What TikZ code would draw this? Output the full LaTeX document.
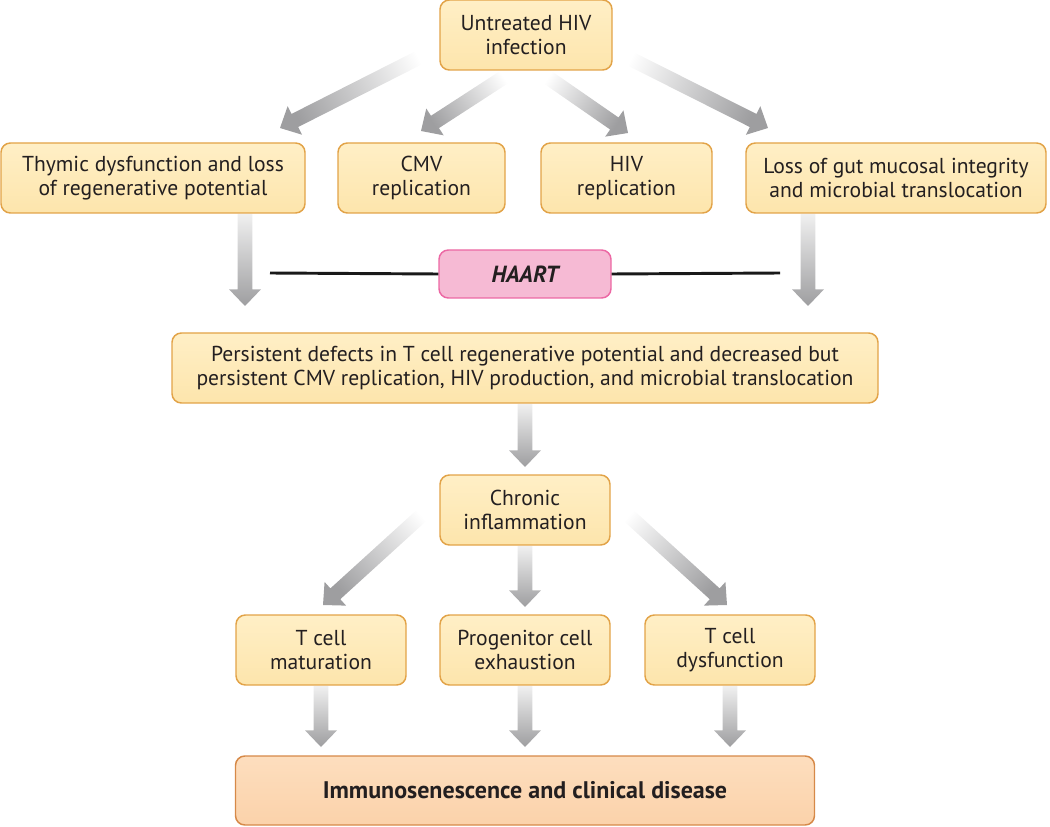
\documentclass[tikz,border=0pt]{standalone}
\usepackage{fontspec}
\setmainfont{PT Sans}
\usetikzlibrary{calc,backgrounds}
\definecolor{boxfill}{RGB}{253,229,172}
\definecolor{boxtop}{RGB}{255,239,198}
\definecolor{boxline}{RGB}{226,163,72}
\definecolor{endfill}{RGB}{251,210,170}
\definecolor{endtop}{RGB}{253,222,190}
\definecolor{endline}{RGB}{214,137,72}
\definecolor{hfill}{RGB}{246,186,212}
\definecolor{hline}{RGB}{236,104,164}
\definecolor{txt}{RGB}{35,31,32}
\definecolor{adark}{RGB}{158,158,160}
\definecolor{alight}{RGB}{240,240,240}

\newcommand{\fatarrow}[4]{% tail, tip, shading angle, light colour
  \coordinate (hb) at ($(#2)!12.5pt!(#1)$);
  \path[top color=#4, bottom color=adark, shading angle=#3]
    ($(#1)!5.5pt!90:(#2)$) -- ($(hb)!5.5pt!90:(#2)$) -- ($(hb)!12pt!90:(#2)$) -- (#2)
    -- ($(hb)!12pt!-90:(#2)$) -- ($(hb)!5.5pt!-90:(#2)$) -- ($(#1)!5.5pt!-90:(#2)$) -- cycle;
}

\tikzset{
  box/.style={draw=boxline, line width=1.1pt, rounded corners=7pt,
    top color=boxtop, bottom color=boxfill, align=center, inner sep=0pt,
    minimum height=52.5pt},
  endbox/.style={draw=endline, line width=1.1pt, rounded corners=7pt,
    top color=endtop, bottom color=endfill, align=center, inner sep=0pt,
    minimum height=51.75pt, font=\fontsize{18}{20}\selectfont\bfseries},
  haartbox/.style={draw=hline, line width=1.1pt, rounded corners=7pt,
    fill=hfill, align=center, inner sep=0pt, minimum width=129pt,
    minimum height=36pt, font=\fontsize{17.5}{19}\selectfont\bfseries\itshape},
  barline/.style={line width=2.2pt, draw=black!90}
}

\begin{document}
\begin{tikzpicture}[x=0.75pt, y=-0.75pt, font=\fontsize{16.2}{17.6}\selectfont, text=txt]
\useasboundingbox (0,0) rectangle (1050,827);

% nodes
\node[box, minimum width=129pt] (top) at (526,35) {Untreated HIV\\infection};
\node[box, minimum width=228pt] (thy) at (153,178) {Thymic dysfunction and loss\\of regenerative potential};
\node[box, minimum width=125.25pt] (cmv) at (421.5,178) {CMV\\replication};
\node[box, minimum width=128.25pt] (hiv) at (626.5,178) {HIV\\replication};
\node[box, minimum width=225pt] (gut) at (896,178) {Loss of gut mucosal integrity\\and microbial translocation};
\node[haartbox] (haart) at (525,274) {HAART};
\node[box, minimum width=529.5pt] (per) at (525,368) {Persistent defects in T cell regenerative potential and decreased but\\persistent CMV replication, HIV production, and microbial translocation};
\node[box, minimum width=127.5pt] (chr) at (525,510) {Chronic\\inflammation};
\node[box, minimum width=127.5pt] (mat) at (321,650) {T cell\\maturation};
\node[box, minimum width=127.5pt] (pro) at (525,650) {Progenitor cell\\exhaustion};
\node[box, minimum width=127.5pt] (dys) at (730,650) {T cell\\dysfunction};
\node[endbox, minimum width=434.25pt] (imm) at (525,790.5) {Immunosenescence and clinical disease};

% HAART bar
\coordinate (hl) at (270,273);
\coordinate (hr) at (780,273);
\draw[barline] (hl) -- (haart.west);
\draw[barline] (haart.east) -- (hr);

% connector end points
\coordinate (t1) at (434,50);  \coordinate (e1) at (280,128);
\coordinate (t2) at (512,72);  \coordinate (e2) at (421,131);
\coordinate (t3) at (540,72);  \coordinate (e3) at (628,133);
\coordinate (t4) at (615,51);  \coordinate (e4) at (768,128);
\coordinate (t5) at (245,214); \coordinate (e5) at (245,306);
\coordinate (t6) at (808,214); \coordinate (e6) at (808,306);
\coordinate (t7) at (525,404); \coordinate (e7) at (525,467);
\coordinate (t8) at (433,505); \coordinate (e8) at (323,605);
\coordinate (t9) at (525,546); \coordinate (e9) at (525,607);
\coordinate (t10) at (617,505); \coordinate (e10) at (727,605);
\coordinate (t11) at (321,686); \coordinate (e11) at (321,747);
\coordinate (t12) at (525,686); \coordinate (e12) at (525,747);
\coordinate (t13) at (730,686); \coordinate (e13) at (730,747);

\begin{scope}[on background layer]
\fatarrow{t1}{e1}{-63}{white}
\fatarrow{t2}{e2}{-56}{white}
\fatarrow{t3}{e3}{56}{white}
\fatarrow{t4}{e4}{64}{white}
\fatarrow{t5}{e5}{0}{alight}
\fatarrow{t6}{e6}{0}{alight}
\fatarrow{t7}{e7}{0}{alight}
\fatarrow{t8}{e8}{-48}{white}
\fatarrow{t9}{e9}{0}{alight}
\fatarrow{t10}{e10}{48}{white}
\fatarrow{t11}{e11}{0}{alight}
\fatarrow{t12}{e12}{0}{alight}
\fatarrow{t13}{e13}{0}{alight}
\end{scope}
\end{tikzpicture}
\end{document}
